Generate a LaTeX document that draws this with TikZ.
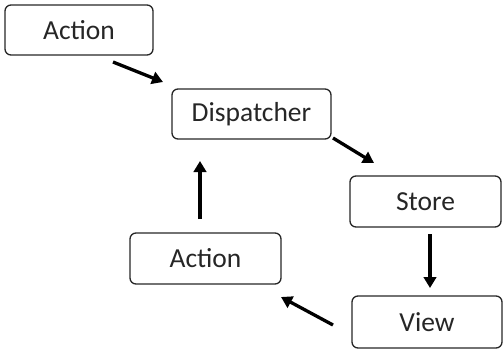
\documentclass[tikz,border=0pt]{standalone}
\usepackage{fontspec}
\setmainfont{Carlito}
\usetikzlibrary{arrows.meta}
\begin{document}
\begin{tikzpicture}[x=1pt,y=-1pt,
  box/.style={draw=black!85,line width=1.3pt,rounded corners=6pt,inner sep=0pt,text=black!85,font=\fontsize{27.5}{30}\selectfont},
  arr/.style={line width=3.3pt,-{Triangle[length=11pt,width=12.5pt]}}]
\useasboundingbox (0,0) rectangle (504,351);
\node[box,minimum width=148pt,minimum height=50pt] (a1) at (79,30) {Action};
\node[box,minimum width=159pt,minimum height=50pt] (d) at (251.5,114) {Dispatcher};
\node[box,minimum width=151pt,minimum height=51pt] (s) at (425.5,201.5) {Store};
\node[box,minimum width=150pt,minimum height=52pt] (v) at (427,322) {View};
\node[box,minimum width=151pt,minimum height=51pt] (a2) at (205.5,258.5) {Action};
\coordinate (p1) at (113,62); \coordinate (q1) at (163,82);
\coordinate (p2) at (333,138); \coordinate (q2) at (374,163);
\coordinate (p3) at (430,234); \coordinate (q3) at (430,288);
\coordinate (p4) at (333,325); \coordinate (q4) at (281,297);
\coordinate (p5) at (200,219); \coordinate (q5) at (200,161);
\draw[arr] (p1) -- (q1);
\draw[arr] (p2) -- (q2);
\draw[arr] (p3) -- (q3);
\draw[arr] (p4) -- (q4);
\draw[arr] (p5) -- (q5);
\end{tikzpicture}
\end{document}
